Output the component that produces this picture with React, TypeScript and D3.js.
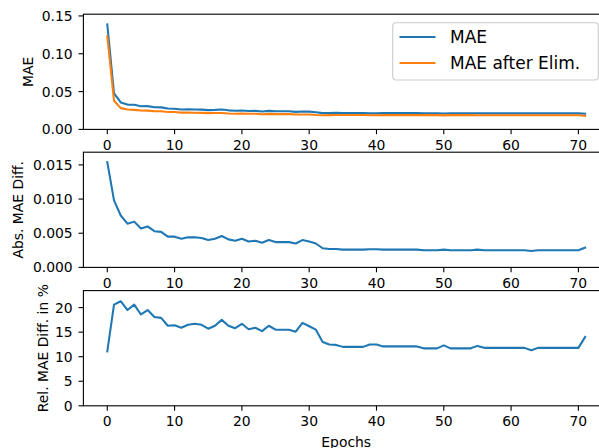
import React from "react";
import * as d3 from "d3";

const epochs: number[] = Array.from({ length: 72 }, (_, i) => i);

const mae: number[] = [
  0.1387, 0.0476, 0.0357, 0.0328, 0.0325, 0.0306, 0.0308, 0.0293, 0.0291, 0.0276,
  0.0274, 0.0264, 0.0267, 0.0263, 0.0261, 0.0255, 0.0258, 0.0263, 0.0252, 0.0247,
  0.0251, 0.0244, 0.0245, 0.0237, 0.0245, 0.0239, 0.0239, 0.0239, 0.0232, 0.0237,
  0.0235, 0.0226, 0.0215, 0.0216, 0.0218, 0.0217, 0.0217, 0.0217, 0.0217, 0.0212,
  0.0212, 0.0215, 0.0215, 0.0215, 0.0215, 0.0215, 0.0215, 0.0214, 0.0214, 0.0214,
  0.0211, 0.0214, 0.0214, 0.0214, 0.0214, 0.0213, 0.0212, 0.0212, 0.0212, 0.0212,
  0.0212, 0.0212, 0.0212, 0.0212, 0.0212, 0.0212, 0.0212, 0.0212, 0.0212, 0.0212,
  0.0212, 0.0207,
];

const maeAfterElim: number[] = [
  0.1233, 0.0378, 0.0281, 0.0264, 0.0258, 0.0249, 0.0248, 0.024, 0.0239, 0.0231,
  0.0229, 0.0222, 0.0223, 0.0219, 0.0218, 0.0215, 0.0216, 0.0217, 0.0211, 0.0208,
  0.0209, 0.0206, 0.0206, 0.0201, 0.0205, 0.0202, 0.0202, 0.0202, 0.0197, 0.0197,
  0.0197, 0.0191, 0.0187, 0.0189, 0.0191, 0.0191, 0.0191, 0.0191, 0.0191, 0.0186,
  0.0186, 0.0189, 0.0189, 0.0189, 0.0189, 0.0189, 0.0189, 0.0189, 0.0189, 0.0189,
  0.0185, 0.0189, 0.0189, 0.0189, 0.0189, 0.0187, 0.0187, 0.0187, 0.0187, 0.0187,
  0.0187, 0.0187, 0.0187, 0.0188, 0.0187, 0.0187, 0.0187, 0.0187, 0.0187, 0.0187,
  0.0187, 0.0178,
];

const absDiff: number[] = [
  0.0154, 0.0098, 0.0076, 0.0064, 0.0067, 0.0057, 0.006, 0.0053, 0.0052, 0.0045,
  0.0045, 0.0042, 0.0044, 0.0044, 0.0043, 0.004, 0.0042, 0.0046, 0.0041, 0.0039,
  0.0042, 0.0038, 0.0039, 0.0036, 0.004, 0.0037, 0.0037, 0.0037, 0.0035, 0.004,
  0.0038, 0.0035, 0.0028, 0.0027, 0.0027, 0.0026, 0.0026, 0.0026, 0.0026, 0.00265,
  0.00265, 0.0026, 0.0026, 0.0026, 0.0026, 0.0026, 0.0026, 0.0025, 0.0025, 0.0025,
  0.0026, 0.0025, 0.0025, 0.0025, 0.0025, 0.0026, 0.0025, 0.0025, 0.0025, 0.0025,
  0.0025, 0.0025, 0.0025, 0.0024, 0.0025, 0.0025, 0.0025, 0.0025, 0.0025, 0.0025,
  0.0025, 0.0029,
];

const relDiff: number[] = [
  11.1, 20.6, 21.3, 19.5, 20.6, 18.6, 19.5, 18.1, 17.9, 16.3,
  16.4, 15.9, 16.5, 16.7, 16.5, 15.7, 16.3, 17.5, 16.3, 15.8,
  16.7, 15.6, 15.9, 15.2, 16.3, 15.5, 15.5, 15.5, 15.1, 16.9,
  16.2, 15.5, 13.0, 12.5, 12.4, 12.0, 12.0, 12.0, 12.0, 12.5,
  12.5, 12.1, 12.1, 12.1, 12.1, 12.1, 12.1, 11.7, 11.7, 11.7,
  12.3, 11.7, 11.7, 11.7, 11.7, 12.2, 11.8, 11.8, 11.8, 11.8,
  11.8, 11.8, 11.8, 11.3, 11.8, 11.8, 11.8, 11.8, 11.8, 11.8,
  11.8, 14.0,
];

const xTicks: number[] = [0, 10, 20, 30, 40, 50, 60, 70];
const maeTicks: number[] = [0, 0.05, 0.1, 0.15];
const absTicks: number[] = [0, 0.005, 0.01, 0.015];
const relTicks: number[] = [0, 5, 10, 15, 20];

const seriesNames: string[] = ["MAE", "MAE after Elim."];
const yLabels: string[] = ["MAE", "Abs. MAE Diff.", "Rel. MAE Diff. in %"];
const xLabel = "Epochs";

const BLUE = "#1f77b4";
const ORANGE = "#ff7f0e";
const FONT = "DejaVu Sans";
const FS = 13.9;

const W = 599;
const H = 448;
const left = 83.4;
const right = 609;
const panelH = 115.2;
const tops = [14.2, 152.2, 290.6];

const x = d3.scaleLinear().domain([-3.55, 74.55]).range([left, right]);

type Panel = {
  top: number;
  domain: [number, number];
  ticks: number[];
  fmt: (v: number) => string;
  label: string;
  labelX: number;
  series: { values: number[]; color: string }[];
};

const panels: Panel[] = [
  {
    top: tops[0],
    domain: [0, 0.1523],
    ticks: maeTicks,
    fmt: d3.format(".2f"),
    label: yLabels[0],
    labelX: 33.3,
    series: [
      { values: mae, color: BLUE },
      { values: maeAfterElim, color: ORANGE },
    ],
  },
  {
    top: tops[1],
    domain: [0, 0.01686],
    ticks: absTicks,
    fmt: d3.format(".3f"),
    label: yLabels[1],
    labelX: 23.3,
    series: [{ values: absDiff, color: BLUE }],
  },
  {
    top: tops[2],
    domain: [0, 23.46],
    ticks: relTicks,
    fmt: d3.format("d"),
    label: yLabels[2],
    labelX: 48.3,
    series: [{ values: relDiff, color: BLUE }],
  },
];

function PanelView({ p, idx }: { p: Panel; idx: number }) {
  const bottom = p.top + panelH;
  const y = d3.scaleLinear().domain(p.domain).range([bottom, p.top]);
  const cy = p.top + panelH / 2;
  return (
    <g>
      <defs>
        <clipPath id={`clip${idx}`}>
          <rect x={left} y={p.top} width={right - left} height={panelH} />
        </clipPath>
      </defs>
      <g clipPath={`url(#clip${idx})`}>
        {p.series.map((s, si) => {
          const line = d3
            .line<number>()
            .x((_, i) => x(epochs[i]))
            .y((d) => y(d));
          return (
            <path
              key={si}
              d={line(s.values) || ""}
              fill="none"
              stroke={s.color}
              strokeWidth={2.08}
              strokeLinejoin="round"
              strokeLinecap="square"
            />
          );
        })}
      </g>
      <rect
        x={left}
        y={p.top}
        width={right - left}
        height={panelH}
        fill="none"
        stroke="#000"
        strokeWidth={1.1}
      />
      {xTicks.map((t) => (
        <g key={t}>
          <line x1={x(t)} x2={x(t)} y1={bottom} y2={bottom + 4.86} stroke="#000" strokeWidth={1.1} />
          <text
            x={x(t)}
            y={bottom + 20.5}
            textAnchor="middle"
            fontFamily={FONT}
            fontSize={FS}
            fill="#000"
          >
            {t}
          </text>
        </g>
      ))}
      {p.ticks.map((t) => (
        <g key={t}>
          <line x1={left - 4.86} x2={left} y1={y(t)} y2={y(t)} stroke="#000" strokeWidth={1.1} />
          <text
            x={72.7}
            y={y(t) + 5.06}
            textAnchor="end"
            fontFamily={FONT}
            fontSize={FS}
            fill="#000"
          >
            {p.fmt(t)}
          </text>
        </g>
      ))}
      <text
        transform={`translate(${p.labelX},${cy}) rotate(-90)`}
        textAnchor="middle"
        fontFamily={FONT}
        fontSize={FS}
        fill="#000"
      >
        {p.label}
      </text>
    </g>
  );
}

export default function App() {
  const legendColors = [BLUE, ORANGE];
  return (
    <svg
      width={W}
      height={H}
      style={{ position: "absolute", left: 0, top: 0, background: "#fff" }}
    >
      <rect x={0} y={0} width={W} height={H} fill="#fff" />
      {panels.map((p, i) => (
        <PanelView key={i} p={p} idx={i} />
      ))}
      <text
        x={(left + right) / 2}
        y={446.8}
        textAnchor="middle"
        fontFamily={FONT}
        fontSize={FS}
        fill="#000"
      >
        {xLabel}
      </text>
      <g>
        <rect
          x={392.7}
          y={22.7}
          width={205.6}
          height={57.3}
          rx={3.5}
          fill="#fff"
          fillOpacity={0.8}
          stroke="#cccccc"
          strokeWidth={1.1}
        />
        {seriesNames.map((n, i) => (
          <g key={n}>
            <line
              x1={399.5}
              x2={435.5}
              y1={37 + i * 26}
              y2={37 + i * 26}
              stroke={legendColors[i]}
              strokeWidth={2.08}
            />
            <text x={450} y={43.3 + i * 26} fontFamily={FONT} fontSize={17} fill="#000">
              {n}
            </text>
          </g>
        ))}
      </g>
    </svg>
  );
}
